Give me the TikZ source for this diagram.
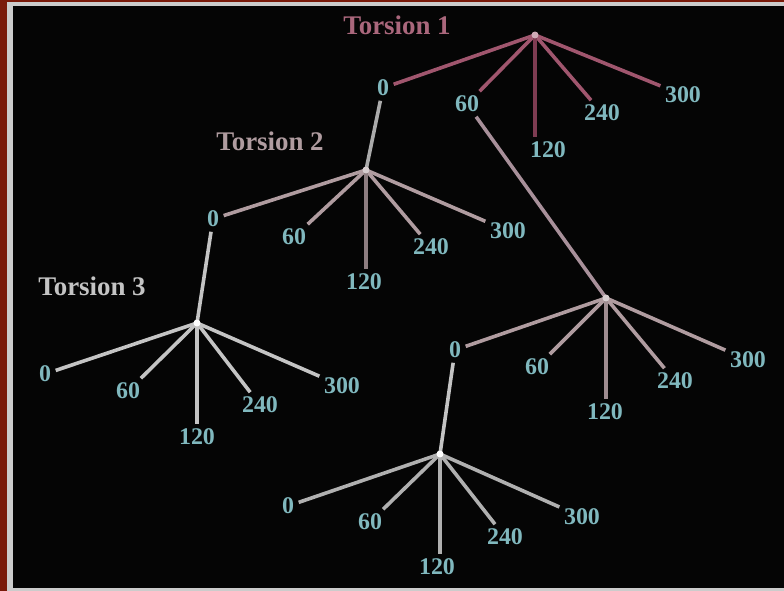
\documentclass[tikz,border=0pt]{standalone}
\usepackage{fontspec}
\setmainfont{Liberation Serif}
\definecolor{bgc}{HTML}{050505}
\definecolor{maroon}{HTML}{7A1A0A}
\definecolor{edgegray}{HTML}{CCCCCC}
\definecolor{lab}{HTML}{80B8BE}
\definecolor{tone}{HTML}{A0566E}
\definecolor{tonedark}{HTML}{7E3C52}
\definecolor{ttwo}{HTML}{B09CA0}
\definecolor{tthree}{HTML}{C4C4C4}
\definecolor{linkgray}{HTML}{ABABAB}
\definecolor{linkpink}{HTML}{A8909A}
\tikzset{
  lbl/.style={text=lab, font=\bfseries\fontsize{24}{24}\selectfont, inner sep=4.5pt},
  ttl/.style={font=\bfseries\fontsize{27}{27}\selectfont},
  hub/.style={circle, fill=#1, inner sep=0pt, minimum size=7pt},
  br/.style={draw=#1, line width=3.6pt},
}
\begin{document}
\begin{tikzpicture}[x=1bp,y=-1bp]
\fill[bgc] (0,0) rectangle (784,591);
\useasboundingbox (0,0) rectangle (784,591);
% frame
\fill[maroon] (0,0) rectangle (7,591);
\fill[maroon] (0,0) rectangle (784,2);
\fill[edgegray] (7,2) rectangle (13,591);
\fill[edgegray] (7,2) rectangle (784,6);
\fill[edgegray] (7,588) rectangle (784,591);

% titles
\node[ttl, text=tone!90!white] (t1) at (397,25) {Torsion 1};
\node[ttl, text=ttwo] (t2) at (270,141) {Torsion 2};
\node[ttl, text=tthree] (t3) at (92,286) {Torsion 3};

% Tree 1
\coordinate (h1) at (535,35);
\node[lbl] (a0) at (383,88) {0};
\node[lbl] (a60) at (467,104) {60};
\node[lbl] (a120) at (548,150) {120};
\node[lbl] (a240) at (602,113) {240};
\node[lbl] (a300) at (683,95) {300};
% Tree 2
\coordinate (h2) at (366,170);
\node[lbl] (b0) at (213,219) {0};
\node[lbl] (b60) at (294,237) {60};
\node[lbl] (b120) at (364,282) {120};
\node[lbl] (b240) at (431,247) {240};
\node[lbl] (b300) at (508,231) {300};
% Tree 3
\coordinate (h3) at (197,323);
\node[lbl] (c0) at (45,374) {0};
\node[lbl] (c60) at (128,391) {60};
\node[lbl] (c120) at (197,437) {120};
\node[lbl] (c240) at (260,405) {240};
\node[lbl] (c300) at (342,386) {300};
% Tree 4
\coordinate (h4) at (606,298);
\node[lbl] (d0) at (455,350) {0};
\node[lbl] (d60) at (537,367) {60};
\node[lbl] (d120) at (605,412) {120};
\node[lbl] (d240) at (675,381) {240};
\node[lbl] (d300) at (748,360) {300};
% Tree 5
\coordinate (h5) at (440,454);
\node[lbl] (e0) at (288,506) {0};
\node[lbl] (e60) at (370,522) {60};
\node[lbl] (e120) at (437,567) {120};
\node[lbl] (e240) at (505,537) {240};
\node[lbl] (e300) at (582,517) {300};

% links between trees
\draw[br=linkgray] (a0) -- (h2);
\draw[br=linkpink] (a60) -- (h4);
\draw[br=tthree] (b0) -- (h3);
\draw[br=tthree] (d0) -- (h5);

% branches tree 1
\foreach \n in {a0,a60,a240,a300} \draw[br=tone] (h1) -- (\n);
\draw[br=tonedark, line width=4.4pt] (h1) -- (h1 |- a120.north);
% tree 2
\foreach \n in {b0,b60,b240,b300} \draw[br=ttwo] (h2) -- (\n);
\draw[br=ttwo!80!black, line width=4.8pt] (h2) -- (h2 |- b120.north);
% tree 3
\foreach \n in {c0,c60,c240,c300} \draw[br=tthree] (h3) -- (\n);
\draw[br=tthree] (h3) -- (h3 |- c120.north);
% tree 4
\foreach \n in {d0,d60,d240,d300} \draw[br=ttwo] (h4) -- (\n);
\draw[br=ttwo!90!black, line width=4.2pt] (h4) -- (h4 |- d120.north);
% tree 5
\foreach \n in {e0,e60,e240,e300} \draw[br=tthree!90!black] (h5) -- (\n);
\draw[br=tthree!90!black] (h5) -- (h5 |- e120.north);

% hubs
\node[hub=tone!50!white] (H1) at (h1) {};
\node[hub=ttwo!50!white] (H2) at (h2) {};
\node[hub=white] (H3) at (h3) {};
\node[hub=ttwo!50!white] (H4) at (h4) {};
\node[hub=white] (H5) at (h5) {};
\end{tikzpicture}
\end{document}
